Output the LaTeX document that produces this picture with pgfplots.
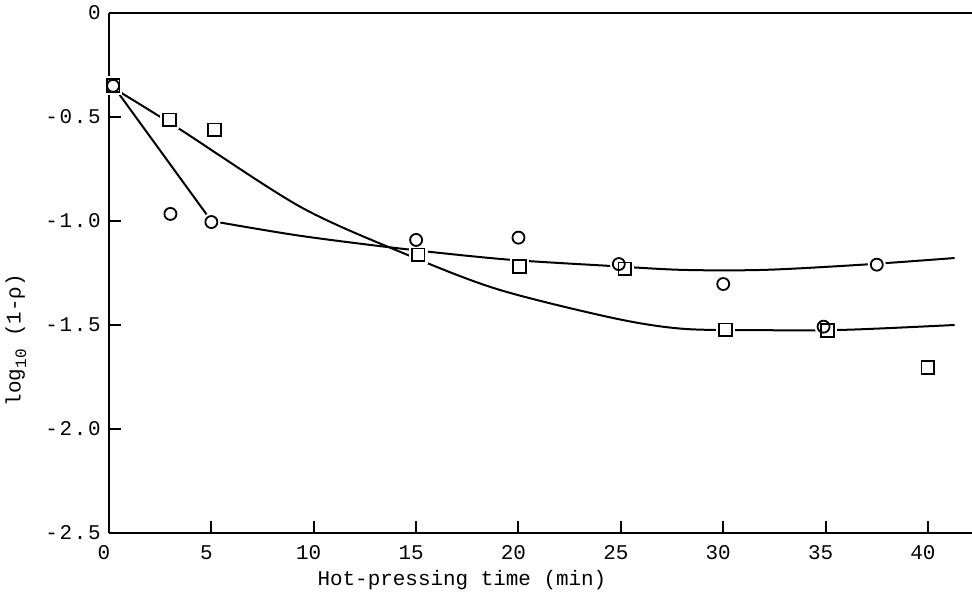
\documentclass[border=0pt]{standalone}
\usepackage{fontspec}
\setmainfont{Liberation Mono}
\newfontfamily\ytickfont[LetterSpace=8]{Liberation Mono}
\usepackage{pgfplots}
\pgfplotsset{compat=1.18}
\begin{document}
\fontsize{10.5}{12}\selectfont
\begin{tikzpicture}
\begin{axis}[
  scale only axis, width=431.5bp, height=260bp,
  xmin=0, xmax=42.15, ymin=-2.5, ymax=0,
  axis x line*=box, axis y line*=left,
  xtick={0,5,...,40}, ytick={-2.5,-2,...,0},
  yticklabels={-2.5,-2.0,-1.5,-1.0,-0.5,0},
  xtick pos=lower, ytick pos=left,
  tick align=inside, major tick length=6bp,
  axis line style={line width=1bp},
  tick style={line width=1bp,black},
  tick label style={font=\fontsize{10.5}{12}\selectfont},
  yticklabel style={font=\ytickfont\fontsize{10.5}{12}\selectfont, xshift=-0.5bp},
  xticklabel style={xshift=-2.5bp, yshift=-2.5bp},
  /pgf/number format/assume math mode=true,
  xlabel={Hot-pressing time (min)},
  ylabel={log\raisebox{-0.5ex}{\footnotesize 10} (1-ρ)},
  xlabel style={at={(axis description cs:0.409,-0.090)},anchor=center},
  ylabel style={at={(axis description cs:-0.108,0.371)},anchor=center},
  clip=false,
]
\coordinate (sw) at (rel axis cs:0,0);
\coordinate (ne) at (rel axis cs:1,1);
% fitted curves
\addplot[line width=1bp, black] coordinates {(0.2,-0.35) (5,-1.0)};
\addplot[line width=1bp, black, smooth] coordinates {(5,-1.0) (9.33,-1.071) (14.46,-1.135) (19.42,-1.185) (24.3,-1.215) (28,-1.235) (32,-1.235) (36.8,-1.21) (41.3,-1.178)};
\addplot[line width=1bp, black, smooth] coordinates {(0.2,-0.36) (3.37,-0.553) (9.33,-0.931) (14.36,-1.154) (18.94,-1.327) (24.6,-1.466) (28,-1.518) (32,-1.525) (36,-1.523) (41.3,-1.50)};
% white halos so lines stop short of markers
\addplot[only marks, mark=*, mark size=3bp, mark options={draw=white, fill=white, line width=3bp}] coordinates {
(0.2,-0.35) (3,-0.966) (5,-1.005) (15,-1.091) (20,-1.08) (24.9,-1.207) (30,-1.303) (34.9,-1.508) (37.5,-1.21)};
\addplot[only marks, mark=square*, mark size=3.2bp, mark options={draw=white, fill=white, line width=3bp}] coordinates {
(0.2,-0.35) (2.95,-0.514) (5.15,-0.5625) (15.1,-1.163) (20.05,-1.22) (25.2,-1.23) (30.1,-1.524) (35.1,-1.527) (40,-1.705)};
% circles
\addplot[only marks, mark=o, mark size=3bp, mark options={draw=black, line width=0.9bp}] coordinates {
(0.2,-0.35) (3,-0.966) (5,-1.005) (15,-1.091) (20,-1.08) (24.9,-1.207) (30,-1.303) (34.9,-1.508) (37.5,-1.21)};
% squares
\addplot[only marks, mark=square, mark size=3.2bp, mark options={draw=black, line width=0.9bp}] coordinates {
(0.2,-0.35) (2.95,-0.514) (5.15,-0.5625) (15.1,-1.163) (20.05,-1.22) (25.2,-1.23) (30.1,-1.524) (35.1,-1.527) (40,-1.705)};
\end{axis}
\pgfresetboundingbox
\path ([shift={(-54.5bp,-38bp)}]sw) rectangle ([shift={(0bp,6.5bp)}]ne);
\end{tikzpicture}
\end{document}
